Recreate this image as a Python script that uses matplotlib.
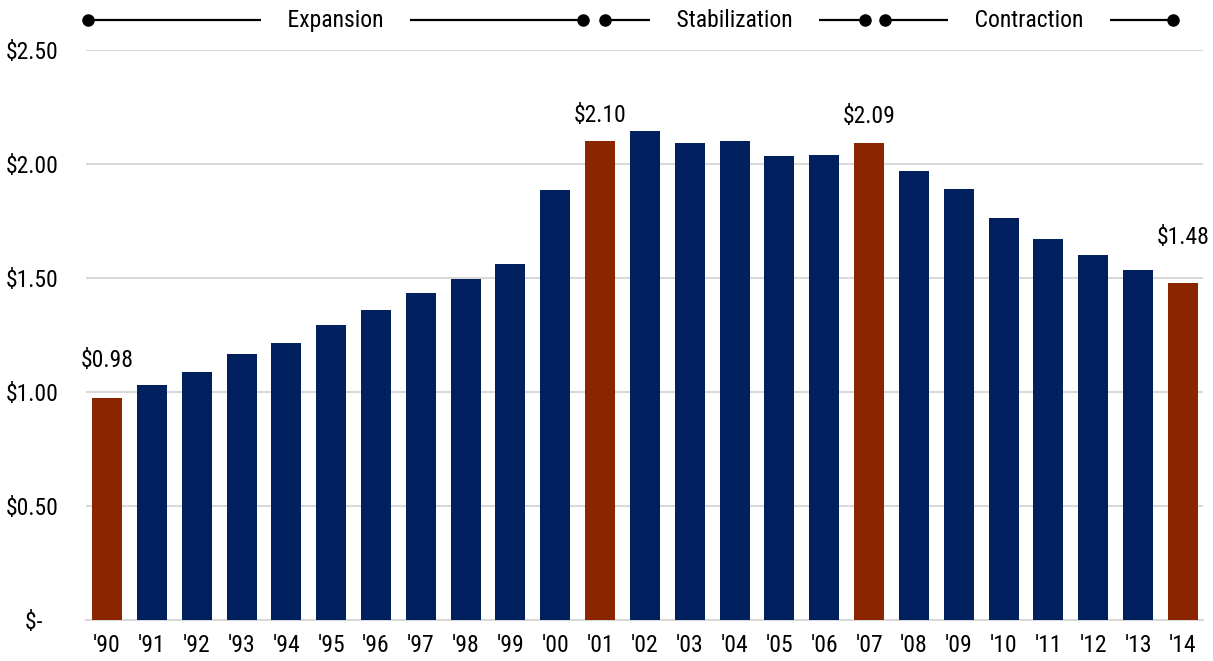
import matplotlib
matplotlib.use('Agg')
import matplotlib.pyplot as plt
import matplotlib.transforms as mtransforms

plt.rcParams['font.family'] = ['Roboto Condensed', 'DejaVu Sans']

years = ["'90", "'91", "'92", "'93", "'94", "'95", "'96", "'97", "'98", "'99",
         "'00", "'01", "'02", "'03", "'04", "'05", "'06", "'07", "'08", "'09",
         "'10", "'11", "'12", "'13", "'14"]
values = [0.975, 1.03, 1.088, 1.167, 1.215, 1.294, 1.36, 1.434, 1.496, 1.561,
          1.886, 2.10, 2.145, 2.09, 2.10, 2.035, 2.04, 2.09, 1.97, 1.89,
          1.763, 1.67, 1.60, 1.535, 1.48]
highlight = ["'90", "'01", "'07", "'14"]
labels = {"'90": "$0.98", "'01": "$2.10", "'07": "$2.09", "'14": "$1.48"}
label_offset = {"'90": 26, "'01": 14, "'07": 15, "'14": 34}   # px above bar top

phases = ["Expansion", "Stabilization", "Contraction"]
phase_start = [-0.42, 11.1, 17.35]
phase_end = [10.62, 16.9, 23.78]

navy = '#002060'
red = '#8B2500'
grid = '#D9D9D9'
fs = 17

fig = plt.figure(figsize=(12.13, 6.61), dpi=100)
ax = fig.add_axes([86 / 1213, 1 - 620 / 661, 1117 / 1213, 570 / 661])

x = range(len(years))
colors = [red if y in highlight else navy for y in years]
ax.bar(x, values, width=0.67, color=colors, zorder=3)

for i, y in enumerate(years):
    if y in labels:
        ax.annotate(labels[y], (i, values[i]), xytext=(0, label_offset[y] * 0.72),
                    textcoords='offset points', ha='center', va='bottom',
                    fontsize=fs, color='black')

ax.set_xlim(-0.47, 24.45)
ax.set_ylim(0, 2.5)
ax.set_xticks(list(x))
ax.set_xticklabels(years, fontsize=fs)
yt = [0, 0.5, 1.0, 1.5, 2.0, 2.5]
ax.set_yticks(yt)
ax.set_yticklabels(['$-   '] + [f'${v:.2f}' for v in yt[1:]], fontsize=fs)
ax.tick_params(axis='both', length=0)
ax.tick_params(axis='y', pad=20)
ax.tick_params(axis='x', pad=10)
ax.yaxis.grid(True, color=grid, linewidth=1.5, zorder=0)
for s in ['top', 'right', 'left']:
    ax.spines[s].set_visible(False)
ax.spines['bottom'].set_color(grid)
ax.spines['bottom'].set_linewidth(1.5)

trans = mtransforms.blended_transform_factory(ax.transData, ax.transAxes)
py = 1.0526
for name, a, b in zip(phases, phase_start, phase_end):
    ax.plot([a, b], [py, py], color='black', lw=1.6, marker='o', ms=8,
            transform=trans, clip_on=False, zorder=4)
    ax.text((a + b) / 2, py, '    ' + name + '    ', transform=trans,
            ha='center', va='center', fontsize=fs, zorder=5,
            bbox=dict(boxstyle='square,pad=0.2', fc='white', ec='none'))

fig.savefig('out.png', dpi=100)
